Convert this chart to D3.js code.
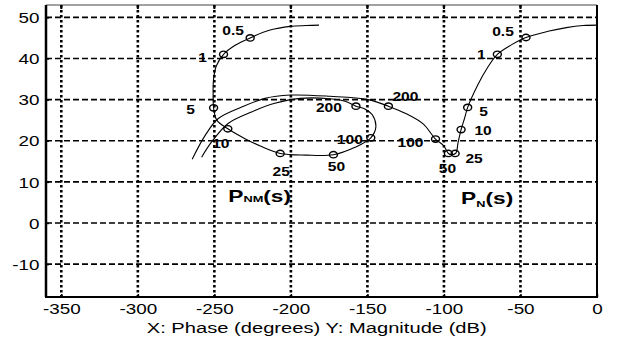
<!DOCTYPE html>
<html>
<head>
<meta charset="utf-8">
<script src="https://cdn.jsdelivr.net/npm/d3@7"></script>
<style>
  body { margin: 0; background: #fff; }
  svg { display: block; font-family: "Liberation Sans", Arial, sans-serif; }
</style>
</head>
<body>
<svg id="chart"></svg>
<script>
// tick values
const xTicks = [-350, -300, -250, -200, -150, -100, -50, 0];
const yTicks = [50, 40, 30, 20, 10, 0, -10];

// P_NM(s) traced curve: phase (deg), magnitude (dB)
const nmPhase = [-181.6, -190, -200.5, -213.6, -226.6, -236.4, -244, -248.8, -250.6, -250.8, -250.5, -248.4, -241.2, -230, -220, -207, -190, -172.2, -158.1, -147.8, -144.5, -146.8, -152, -157.5, -164.6, -174.4, -194, -210.5, -225.7, -241, -251.8, -258.3];
const nmMag   = [48.1, 48.0, 47.8, 46.9, 45.0, 43.2, 41.0, 38.1, 34.7, 31.1, 28.0, 25.0, 22.9, 20.5, 18.7, 16.9, 16.5, 16.6, 18.4, 20.7, 23.3, 26.3, 27.8, 28.4, 29.6, 30.2, 30.3, 29.1, 27.0, 24.2, 19.7, 16.0];

// P_N(s) traced curve
const nPhase = [0, -9, -20, -32, -46.4, -56, -65.1, -72, -78, -84.5, -86.5, -88.8, -90.8, -92.2, -95, -97.1, -100.4, -105.5, -113.6, -125.4, -136.3, -149.6, -174.4, -200.5, -216.9, -232.1, -247.4, -256, -264.5];
const nMag   = [48.1, 48.0, 47.5, 46.6, 45.1, 43.3, 41.0, 37.5, 33.5, 28.1, 25.5, 22.7, 19.5, 17.0, 16.6, 16.9, 18.9, 20.4, 24.1, 26.7, 28.4, 30.0, 30.8, 31.1, 30.3, 28.2, 25.4, 21.3, 15.5];

// frequency markers (rad/s)
const freqs = ["0.5", "1", "5", "10", "25", "50", "100", "200"];
const nmMarkPhase = [-226.6, -244.0, -250.5, -241.2, -207.0, -172.2, -147.8, -157.5];
const nmMarkMag   = [45.0, 41.0, 28.0, 22.9, 16.9, 16.6, 20.7, 28.4];
const nMarkPhase  = [-46.4, -65.1, -84.5, -88.8, -92.7, -97.1, -105.5, -136.3];
const nMarkMag    = [45.1, 41.0, 28.1, 22.7, 16.9, 16.9, 20.4, 28.4];

// label offsets from markers, in px (layout only)
const nmLabelOff = [[-17, -7], [-21, 3], [-23, 2], [-7, 15], [1, 18], [3, 12], [-21, 2], [-27, 2]];
const nLabelOff  = [[-23, -6], [-16, 0], [16, 4], [22, 1], [19, 5], [-1, 15], [-25, 4], [17, -9]];

const width = 619, height = 342;
const margin = {top: 5, right: 22, bottom: 45, left: 46};
const sx = 1.3; // glyphs in the scan are stretched sideways

const svg = d3.select("#chart").attr("width", width).attr("height", height);

const x = d3.scaleLinear().domain([-360, 0]).range([margin.left, width - margin.right]);
const y = d3.scaleLinear().domain([-18, 53]).range([height - margin.bottom, margin.top]);

// grid
svg.append("g")
    .selectAll("line")
    .data(yTicks)
    .join("line")
    .attr("x1", x(-360)).attr("x2", x(0))
    .attr("y1", d => y(d)).attr("y2", d => y(d))
    .attr("stroke", "#000")
    .attr("stroke-width", 1.6)
    .attr("stroke-dasharray", "6,3");

svg.append("g")
    .selectAll("line")
    .data(xTicks.filter(d => d !== 0))
    .join("line")
    .attr("x1", d => x(d)).attr("x2", d => x(d))
    .attr("y1", y(53)).attr("y2", y(-18))
    .attr("stroke", "#000")
    .attr("stroke-width", 2.6)
    .attr("stroke-dasharray", "2.6,2.4");

// axes
const gx = svg.append("g")
    .attr("transform", `translate(0,${y(-18)})`)
    .call(d3.axisBottom(x).tickValues(xTicks).tickSize(-3).tickFormat(d => String(d)));
gx.select(".domain").remove();
gx.selectAll("line").attr("stroke-width", 1.5);
gx.selectAll("text")
    .attr("y", 17).attr("dy", 0)
    .attr("transform", `scale(${sx},1)`)
    .attr("fill", "#000")
    .style("font-size", "14.5px");

const gy = svg.append("g")
    .attr("transform", `translate(${x(-360)},0)`)
    .call(d3.axisLeft(y).tickValues(yTicks).tickSize(-3).tickFormat(d => String(d)));
gy.select(".domain").remove();
gy.selectAll("line").attr("stroke-width", 1.5);
gy.selectAll("text")
    .attr("x", -6.5 / sx).attr("dy", "0.36em")
    .attr("transform", `scale(${sx},1)`)
    .attr("fill", "#000")
    .style("font-size", "14.5px");

// frame
const frame = svg.append("g").attr("stroke", "#000").attr("fill", "none");
frame.append("line").attr("x1", x(-360)).attr("x2", x(0)).attr("y1", y(53)).attr("y2", y(53)).attr("stroke-width", 1).attr("stroke", "#444");
frame.append("line").attr("x1", x(-360)).attr("x2", x(-360)).attr("y1", y(53)).attr("y2", y(-18)).attr("stroke-width", 2.5);
frame.append("line").attr("x1", x(0)).attr("x2", x(0)).attr("y1", y(53)).attr("y2", y(-18)).attr("stroke-width", 2);
frame.append("line").attr("x1", x(-360) - 1).attr("x2", x(0) + 1).attr("y1", y(-18)).attr("y2", y(-18)).attr("stroke-width", 2);
// small top ticks
frame.selectAll(".tt")
    .data(xTicks.filter(d => d !== 0))
    .join("line")
    .attr("x1", d => x(d)).attr("x2", d => x(d))
    .attr("y1", y(53)).attr("y2", y(53) + 4)
    .attr("stroke-width", 2);

// curves
const line = d3.line()
    .x(d => x(d[0]))
    .y(d => y(d[1]))
    .curve(d3.curveCatmullRom.alpha(0.5));

const series = [
    {phase: nmPhase, mag: nmMag, mp: nmMarkPhase, mm: nmMarkMag, off: nmLabelOff},
    {phase: nPhase, mag: nMag, mp: nMarkPhase, mm: nMarkMag, off: nLabelOff}
];

series.forEach(s => {
    svg.append("path")
        .datum(d3.zip(s.phase, s.mag))
        .attr("fill", "none")
        .attr("stroke", "#000")
        .attr("stroke-width", 1.1)
        .attr("d", line);

    const marks = freqs.map((f, i) => ({f: f, p: s.mp[i], m: s.mm[i], off: s.off[i]}));

    svg.append("g")
        .selectAll("ellipse")
        .data(marks)
        .join("ellipse")
        .attr("cx", d => x(d.p))
        .attr("cy", d => y(d.m))
        .attr("rx", 4)
        .attr("ry", 3.2)
        .attr("fill", "none")
        .attr("stroke", "#000")
        .attr("stroke-width", 1.4);

    svg.append("g")
        .selectAll("text")
        .data(marks)
        .join("text")
        .attr("transform", d => `translate(${x(d.p) + d.off[0]},${y(d.m) + d.off[1]}) scale(${sx},1)`)
        .attr("text-anchor", "middle")
        .attr("dy", "0.36em")
        .style("font-size", "12px")
        .style("font-weight", "bold")
        .text(d => d.f);
});

// plant labels
const plantLabels = [
    {name: "P", sub: "NM", phase: -240.9, mag: 5.0, dy: 0},
    {name: "P", sub: "N", phase: -88.8, mag: 4.6, dy: 3}
];
plantLabels.forEach(p => {
    const t = svg.append("text")
        .attr("transform", `translate(${x(p.phase)},${y(p.mag)}) scale(1.42,1)`)
        .style("font-size", "16px")
        .style("font-weight", "bold");
    t.append("tspan").text(p.name);
    t.append("tspan").attr("dy", p.dy).style("font-size", "9px").text(p.sub);
    t.append("tspan").attr("dy", -p.dy).text("(s)");
});

// axis title
svg.append("text")
    .attr("transform", `translate(${(141.7 + 491.7) / 2},333) scale(${sx},1)`)
    .attr("text-anchor", "middle")
    .style("font-size", "15.5px")
    .text("X: Phase (degrees)  Y: Magnitude (dB)");
</script>
</body>
</html>
